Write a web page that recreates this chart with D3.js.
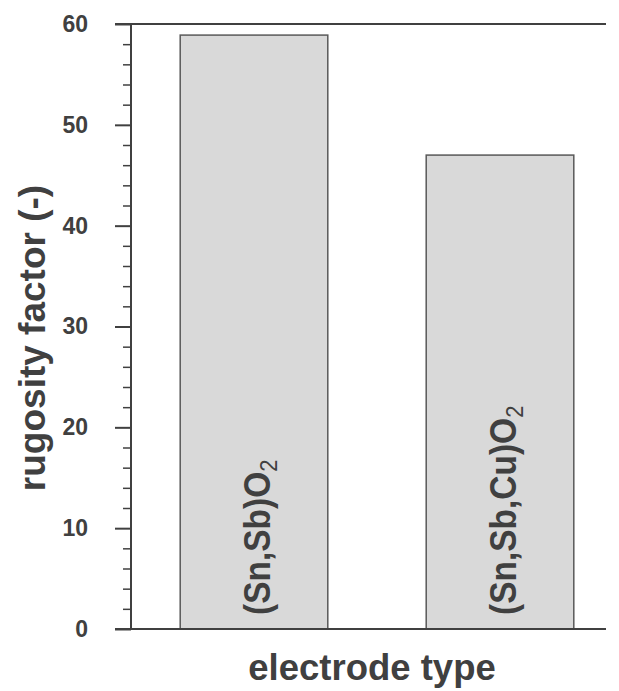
<!DOCTYPE html>
<html><head><meta charset="utf-8">
<script src="https://cdn.jsdelivr.net/npm/d3@7"></script>
<style>body{margin:0;background:#fff}svg{display:block}</style>
</head><body>
<svg id="c" width="619" height="691"></svg>
<script>
const categories = ["(Sn,Sb)O", "(Sn,Sb,Cu)O"];
const subscripts = ["2", "2"];
const values = [58.9, 47];
const yTicks = [0, 10, 20, 30, 40, 50, 60];
const yTitle = "rugosity factor (-)";
const xTitle = "electrode type";

(function () {
const svg = d3.select("#c");
const ink = "#404040";
const font = "Liberation Sans, Arial, sans-serif";
const pL = 131, pR = 606, pT = 24, pB = 629;

const y = d3.scaleLinear().domain([0, 60]).range([pB, pT]);
const x = d3.scaleBand().domain(categories).range([pL, 623]).paddingInner(0.4).paddingOuter(0.2);

// bars
svg.selectAll("rect.bar").data(categories).join("rect")
  .attr("class", "bar")
  .attr("x", d => x(d))
  .attr("width", x.bandwidth())
  .attr("y", (d, i) => y(values[i]))
  .attr("height", (d, i) => y(0) - y(values[i]))
  .attr("fill", "#d9d9d9")
  .attr("stroke", "#595959")
  .attr("stroke-width", 1.5);

// y axis
const yAxis = d3.axisLeft(y).tickValues(yTicks).tickSize(16).tickPadding(27).tickFormat(d3.format("d"));
const ga = svg.append("g").attr("transform", `translate(${pL},0)`).call(yAxis);
ga.select(".domain").remove();
ga.selectAll(".tick line").attr("stroke", ink).attr("stroke-width", 2);
ga.selectAll(".tick text").attr("fill", ink).attr("font-family", font)
  .attr("font-size", 23).attr("font-weight", "bold");

// minor ticks
const minor = d3.range(0, 61, 2).filter(v => v % 10 !== 0);
const gm = svg.append("g").attr("transform", `translate(${pL},0)`).call(d3.axisLeft(y).tickValues(minor).tickSize(8).tickFormat(""));
gm.select(".domain").remove();
gm.selectAll(".tick line").attr("stroke", ink).attr("stroke-width", 1.5);

// axis lines
svg.append("line").attr("x1", pL).attr("x2", pL).attr("y1", pT).attr("y2", pB).attr("stroke", ink).attr("stroke-width", 2);
svg.append("line").attr("x1", pL - 16).attr("x2", pR).attr("y1", pT).attr("y2", pT).attr("stroke", ink).attr("stroke-width", 2);
svg.append("line").attr("x1", pL - 16).attr("x2", pR).attr("y1", pB).attr("y2", pB).attr("stroke", ink).attr("stroke-width", 2);

// bar labels
categories.forEach((c, i) => {
  const cx = x(c) + x.bandwidth() / 2;
  const t = svg.append("text")
    .attr("transform", `translate(${cx + 16},${y(0) - 14}) rotate(-90) scale(1,1.12)`)
    .attr("fill", ink).attr("font-family", font).attr("font-weight", "bold")
    .attr("font-size", 33.5);
  t.append("tspan").text(c);
  t.append("tspan").attr("font-size", 22).attr("font-weight", "normal").attr("dy", 6).text(subscripts[i]);
});

// titles
svg.append("text")
  .attr("transform", `translate(45,338) rotate(-90)`)
  .attr("text-anchor", "middle").attr("fill", ink)
  .attr("font-family", font).attr("font-weight", "bold").attr("font-size", 37)
  .text(yTitle);
svg.append("text")
  .attr("x", 372).attr("y", 680)
  .attr("text-anchor", "middle").attr("fill", ink)
  .attr("font-family", font).attr("font-weight", "bold").attr("font-size", 36.5)
  .text(xTitle);
})();
</script>
</body></html>
